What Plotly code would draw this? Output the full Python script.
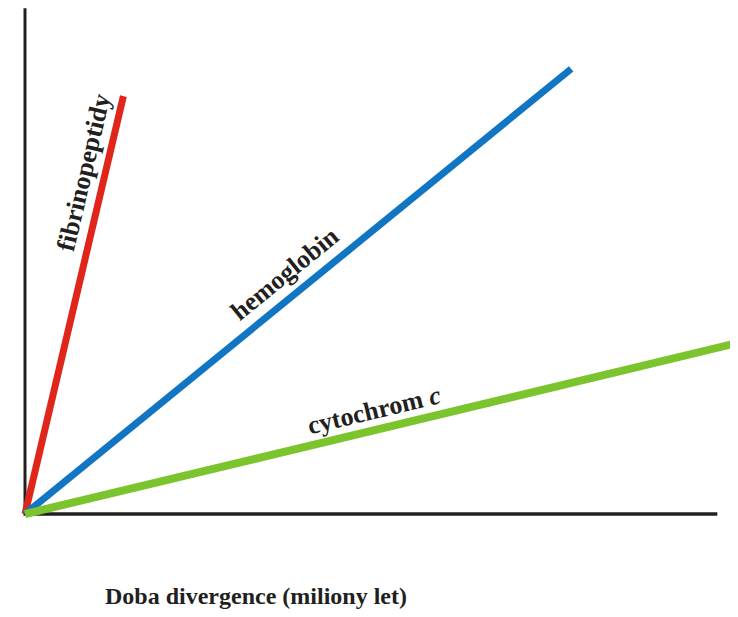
import math
import plotly.graph_objects as go

# Data (arbitrary units: x = time of divergence, y = amino-acid differences)
proteins = ["fibrinopeptidy", "hemoglobin", "cytochrom c"]
labels = ["<b>fibrinopeptidy</b>", "<b>hemoglobin</b>", "<b>cytochrom <i>c</i></b>"]
x_end = [13.8, 76.6, 99.4]
y_end = [81.3, 86.6, 33.1]
colors = ["#e0261b", "#1075c2", "#7cc42d"]
widths = [7, 7, 8]
label_x = [8.2, 36.5, 48.9]
label_y = [66.5, 46.7, 20.2]
axis_x_max = 97.1
axis_y_max = 98.4

# page body has an 8px margin, so the figure is 8px smaller
W, H = 730, 609
ml, mr, mt, mb = 0, 0, 0, 70
x_range = [-2.384, 100]
y_range = [-6.42, 98.44]
px_per_x = (W - ml - mr) / (x_range[1] - x_range[0])
px_per_y = (H - mt - mb) / (y_range[1] - y_range[0])

fig = go.Figure()

# axes
fig.add_trace(go.Scatter(x=[0, 0], y=[-0.1, axis_y_max], mode="lines",
                         line=dict(color="#231f20", width=3), hoverinfo="skip"))
fig.add_trace(go.Scatter(x=[-0.2, axis_x_max], y=[0, 0], mode="lines",
                         line=dict(color="#231f20", width=3.5), hoverinfo="skip"))

for name, xe, ye, c, w in zip(proteins, x_end, y_end, colors, widths):
    fig.add_trace(go.Scatter(x=[0, xe], y=[0, ye], mode="lines", name=name,
                             line=dict(color=c, width=w)))

for lab, lx, ly, xe, ye in zip(labels, label_x, label_y, x_end, y_end):
    ang = math.degrees(math.atan2(ye * px_per_y, xe * px_per_x))
    fig.add_annotation(x=lx, y=ly, xref="x", yref="y", text=lab, showarrow=False,
                       textangle=-ang, xanchor="center", yanchor="middle",
                       font=dict(family="Liberation Serif", size=26, color="#231f20"))

fig.add_annotation(x=0.3404, y=-0.0909, xref="paper", yref="paper",
                   xanchor="center", yanchor="middle",
                   text="<b>Doba divergence (miliony let)</b>", showarrow=False,
                   font=dict(family="Liberation Serif", size=24, color="#231f20"))

fig.update_layout(
    width=W, height=H,
    margin=dict(l=ml, r=mr, t=mt, b=mb),
    paper_bgcolor="white", plot_bgcolor="white",
    showlegend=False,
    xaxis=dict(range=x_range, visible=False, fixedrange=True),
    yaxis=dict(range=y_range, visible=False, fixedrange=True),
)

fig.write_html("out.html")
